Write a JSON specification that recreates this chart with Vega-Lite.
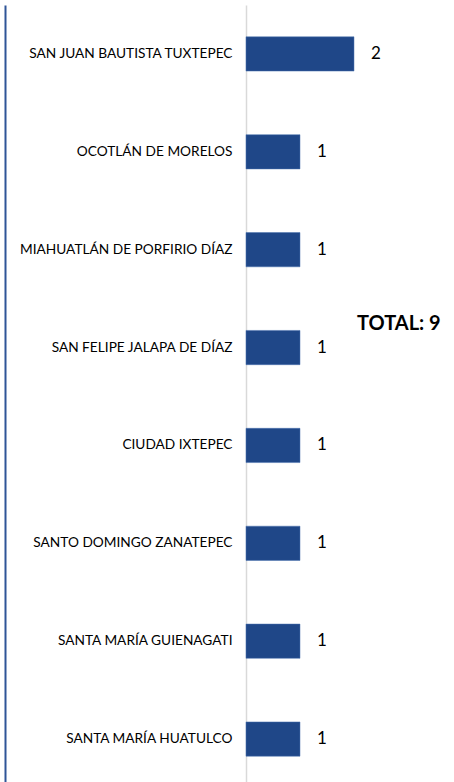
{
  "$schema": "https://vega.github.io/schema/vega-lite/v6.json",
  "width": 200,
  "height": 783,
  "autosize": "none",
  "padding": {"left": 246, "top": 5, "right": 0, "bottom": 0},
  "background": "white",
  "config": {"view": {"stroke": null}, "font": "Lato"},
  "datasets": {
    "bars": [
      {"municipio": "SAN JUAN BAUTISTA TUXTEPEC", "casos": 2},
      {"municipio": "OCOTLÁN DE MORELOS", "casos": 1},
      {"municipio": "MIAHUATLÁN DE PORFIRIO DÍAZ", "casos": 1},
      {"municipio": "SAN FELIPE JALAPA DE DÍAZ", "casos": 1},
      {"municipio": "CIUDAD IXTEPEC", "casos": 1},
      {"municipio": "SANTO DOMINGO ZANATEPEC", "casos": 1},
      {"municipio": "SANTA MARÍA GUIENAGATI", "casos": 1},
      {"municipio": "SANTA MARÍA HUATULCO", "casos": 1}
    ],
    "total": [
      {"municipio": "SAN FELIPE JALAPA DE DÍAZ", "pos": 2.83, "label": "TOTAL: 9"}
    ]
  },
  "encoding": {
    "y": {
      "field": "municipio",
      "type": "nominal",
      "sort": null,
      "scale": {"paddingInner": 0.65, "paddingOuter": 0.325}
    },
    "x": {
      "type": "quantitative",
      "scale": {"domain": [0, 3.704], "nice": false, "zero": true},
      "axis": null
    }
  },
  "layer": [
    {
      "data": {"name": "bars"},
      "mark": {"type": "bar", "color": "#1f4788", "stroke": "#4a72b0", "strokeWidth": 0.5},
      "encoding": {
        "x": {"field": "casos", "type": "quantitative"},
        "y": {
          "field": "municipio",
          "type": "nominal",
          "sort": null,
          "title": null,
          "axis": {
            "orient": "left",
            "domainColor": "#d9d9d9",
            "domainWidth": 1.5,
            "ticks": false,
            "labelPadding": 14,
            "labelFontSize": 13.7,
            "labelColor": "#000000",
            "labelFont": "Lato",
            "labelLimit": 300
          }
        }
      }
    },
    {
      "data": {"name": "bars"},
      "mark": {"type": "text", "align": "left", "dx": 17, "fontSize": 17, "color": "#000000", "font": "Lato"},
      "encoding": {
        "x": {"field": "casos", "type": "quantitative"},
        "y": {
          "field": "municipio",
          "type": "nominal",
          "sort": null,
          "title": null,
          "axis": {
            "orient": "left",
            "offset": 241,
            "domainColor": "#2f5597",
            "domainWidth": 2,
            "ticks": false,
            "labels": false
          }
        },
        "text": {"field": "casos", "type": "quantitative"}
      }
    },
    {
      "data": {"name": "total"},
      "mark": {"type": "text", "align": "center", "dy": -24, "fontSize": 20, "fontWeight": "bold", "color": "#000000", "font": "Lato"},
      "encoding": {
        "x": {"field": "pos", "type": "quantitative"},
        "y": {"field": "municipio", "type": "nominal", "sort": null},
        "text": {"field": "label"}
      }
    }
  ],
  "resolve": {"axis": {"y": "independent"}}
}
